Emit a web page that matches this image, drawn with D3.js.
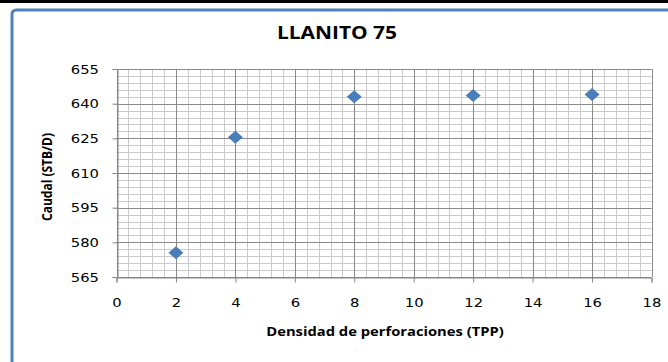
<!DOCTYPE html>
<html><head><meta charset="utf-8">
<script src="https://cdn.jsdelivr.net/npm/d3@7"></script>
<style>body{margin:0;background:#fff;}svg{display:block;}</style>
</head><body>
<script>
const title = "LLANITO 75";
const xLabel = "Densidad de perforaciones (TPP)";
const yLabel = "Caudal (STB/D)";
const tpp = [2, 4, 8, 12, 16];
const caudal = [575.5, 625.5, 643, 643.5, 644];
const xTicks = [0, 2, 4, 6, 8, 10, 12, 14, 16, 18];
const yTicks = [565, 580, 595, 610, 625, 640, 655];

const W = 668, H = 362;
const SX = 1.23; // horizontal stretch of the original picture
const svg = d3.select("body").append("svg").attr("width", W).attr("height", H);

// top black rule and blue frame
svg.append("rect").attr("x", 0).attr("y", 0).attr("width", W).attr("height", 3).attr("fill", "#000");
svg.append("rect").attr("x", 12).attr("y", 10).attr("width", W + 20).attr("height", H + 20)
  .attr("rx", 4).attr("fill", "#fff").attr("stroke", "#4f81bd").attr("stroke-width", 3);

const x = d3.scaleLinear().domain([0, 18]).range([116.5, 651.5]);
const y = d3.scaleLinear().domain([565, 655]).range([277, 69]);

const g = svg.append("g");
// minor grid
const xMinor = d3.range(0, 18.0001, 0.4);
const yMinor = d3.range(565, 655.0001, 3);
g.selectAll(".vmin").data(xMinor).join("line")
  .attr("x1", d => Math.round(x(d)) + 0.5).attr("x2", d => Math.round(x(d)) + 0.5)
  .attr("y1", y(655)).attr("y2", y(565)).attr("stroke", "#cacaca").attr("stroke-width", 1);
g.selectAll(".hmin").data(yMinor).join("line")
  .attr("y1", d => Math.round(y(d)) + 0.5).attr("y2", d => Math.round(y(d)) + 0.5)
  .attr("x1", x(0)).attr("x2", x(18)).attr("stroke", "#cacaca").attr("stroke-width", 1);
// major grid
g.selectAll(".vmaj").data(xTicks).join("line")
  .attr("x1", d => Math.round(x(d)) + 0.5).attr("x2", d => Math.round(x(d)) + 0.5)
  .attr("y1", y(655)).attr("y2", y(565)).attr("stroke", "#8a8a8a").attr("stroke-width", 1);
g.selectAll(".hmaj").data(yTicks).join("line")
  .attr("y1", d => Math.round(y(d)) + 0.5).attr("y2", d => Math.round(y(d)) + 0.5)
  .attr("x1", x(0)).attr("x2", x(18)).attr("stroke", "#8a8a8a").attr("stroke-width", 1);

// axes
const xAxis = d3.axisBottom(x).tickValues(xTicks).tickSize(5).tickFormat(d3.format("d"));
const yAxis = d3.axisLeft(y).tickValues(yTicks).tickSize(5).tickFormat(d3.format("d"));
const gx = svg.append("g").attr("transform", `translate(0,${Math.round(y(565)) + 0.5})`).call(xAxis);
const gy = svg.append("g").attr("transform", `translate(${Math.round(x(0)) + 0.5},0)`).call(yAxis);
[gx, gy].forEach(a => {
  a.select(".domain").attr("stroke", "#868686");
  a.selectAll(".tick line").attr("stroke", "#868686");
  a.selectAll("text").attr("fill", "#000").attr("font-family", "DejaVu Sans, Verdana, sans-serif").attr("font-size", 12);
});
gx.selectAll("text").attr("y", 0).attr("dy", 0)
  .attr("transform", `translate(0,29.5) scale(${SX},1)`);
gy.selectAll("text").attr("x", 0).attr("dy", "0.35em")
  .attr("transform", `translate(-18.5,0) scale(${SX},1)`);

// points
const diamond = "M0,-6.5L7.5,0L0,6.5L-7.5,0Z";
svg.append("g").selectAll("path").data(tpp).join("path")
  .attr("d", diamond)
  .attr("transform", (d, i) => `translate(${x(d)},${y(caudal[i])})`)
  .attr("fill", "#4a7ebb");

// titles
const tf = "Open Sans, Liberation Sans, sans-serif";
svg.append("text").attr("transform", `translate(337,39) scale(${SX},1)`).attr("text-anchor", "middle")
  .attr("font-family", tf).attr("font-weight", "bold")
  .attr("font-size", 17).text(title);
svg.append("text").attr("transform", `translate(385,336) scale(${SX},1)`).attr("text-anchor", "middle")
  .attr("font-family", tf).attr("font-weight", "bold")
  .attr("font-size", 12).text(xLabel);
svg.append("text").attr("transform", `translate(52,177) scale(${SX},1) rotate(-90)`).attr("text-anchor", "middle")
  .attr("font-family", tf).attr("font-weight", "bold")
  .attr("font-size", 12).text(yLabel);
</script>
</body></html>
